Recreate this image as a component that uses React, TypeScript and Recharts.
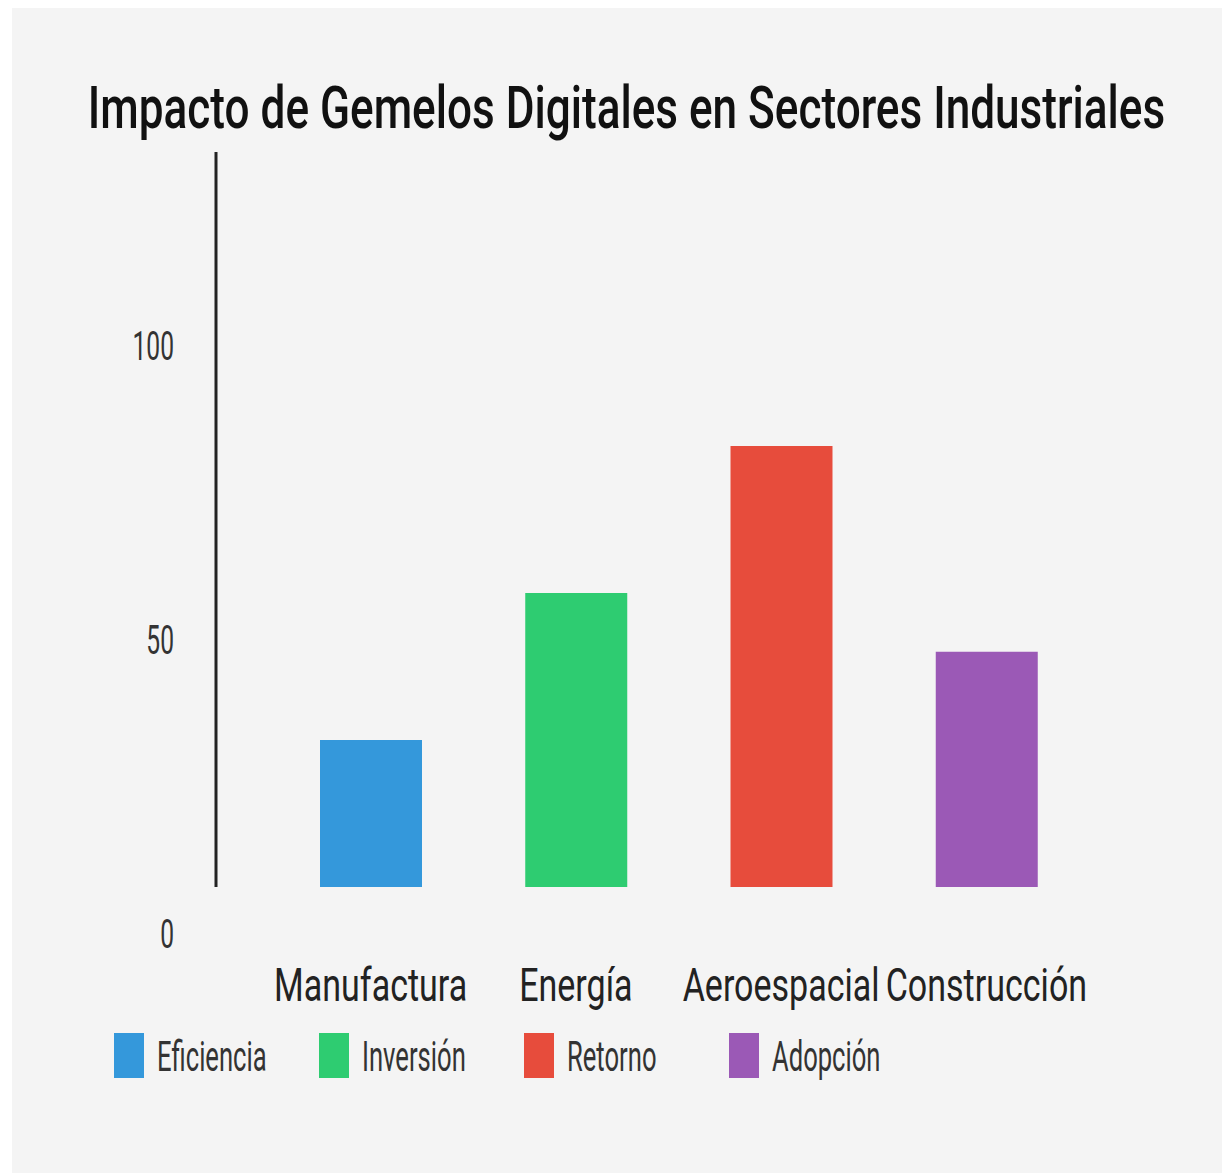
import { useLayoutEffect, useRef, useState } from 'react';
import { BarChart, Bar, XAxis, YAxis, Cell } from 'recharts';

const sectores = ['Manufactura', 'Energía', 'Aeroespacial', 'Construcción'];
const valores = [25, 50, 75, 40];
const series = ['Eficiencia', 'Inversión', 'Retorno', 'Adopción'];
const colores = ['#3498db', '#2ecc71', '#e74c3c', '#9b59b6'];
const yTicks = [0, 50, 100];

const data = sectores.map((sector, i) => ({ sector, valor: valores[i] }));

const W = 1218;
const H = 1165;
const FONT = 'Roboto, sans-serif';
const TITLE_WIDTH = 1077;

// etiquetas del eje Y desplazadas hacia abajo como en el original
const YTick = ({ x, y, payload }: any) => (
  <g transform={`translate(${x - 34}, ${y + 47})`}>
    <text
      transform="scale(0.6, 1)"
      textAnchor="end"
      dominantBaseline="central"
      fontFamily={FONT}
      fontSize={41}
      fill="#333"
    >
      {payload.value}
    </text>
  </g>
);

const XTick = ({ x, y, payload }: any) => (
  <g transform={`translate(${x}, ${y + 106})`}>
    <text transform="scale(0.74, 1)" textAnchor="middle" fontFamily={FONT} fontSize={46} fill="#222">
      {payload.value}
    </text>
  </g>
);

const Title = () => {
  const ref = useRef<SVGTextElement>(null);
  const [sx, setSx] = useState(0.7);

  useLayoutEffect(() => {
    if (ref.current) {
      const w = ref.current.getComputedTextLength();
      if (w > 0) setSx(TITLE_WIDTH / w);
    }
  }, []);

  return (
    <svg width={W} height={170} style={{ position: 'absolute', left: 0, top: 0 }}>
      <g transform={`translate(614.5, 120) scale(${sx}, 1)`}>
        <text ref={ref} textAnchor="middle" fontFamily={FONT} fontWeight={500} fontSize={60} fill="#111">
          Impacto de Gemelos Digitales en Sectores Industriales
        </text>
      </g>
    </svg>
  );
};

const App = () => {
  return (
    <div style={{ position: 'relative', marginLeft: 4, width: 1226, height: 1170, background: '#f4f4f4' }}>
      <Title />

      <div style={{ position: 'absolute', left: 0, top: 0 }}>
        <BarChart width={W} height={H} data={data} margin={{ top: 144, right: 141, bottom: 256, left: 124 }}>
          <XAxis
            dataKey="sector"
            axisLine={false}
            tickLine={false}
            height={30}
            padding={{ left: 52, right: 0 }}
            interval={0}
            tick={<XTick />}
          />
          <YAxis
            width={80}
            domain={[0, 125]}
            ticks={yTicks}
            tickLine={false}
            axisLine={{ stroke: '#222', strokeWidth: 3 }}
            tick={<YTick />}
          />
          <Bar dataKey="valor" barSize={102} isAnimationActive={false}>
            {data.map((_, i) => (
              <Cell key={`cell-${i}`} fill={colores[i]} />
            ))}
          </Bar>
        </BarChart>
      </div>

      <svg width={W} height={100} style={{ position: 'absolute', left: 0, top: 1000 }}>
        {series.map((name, i) => (
          <g key={name} transform={`translate(${102 + i * 205}, 0)`}>
            <rect x={0} y={25} width={30} height={45} fill={colores[i]} />
            <g transform="translate(43, 63) scale(0.61, 1)">
              <text fontFamily={FONT} fontSize={42} fill="#333">
                {name}
              </text>
            </g>
          </g>
        ))}
      </svg>
    </div>
  );
};

export default App;
